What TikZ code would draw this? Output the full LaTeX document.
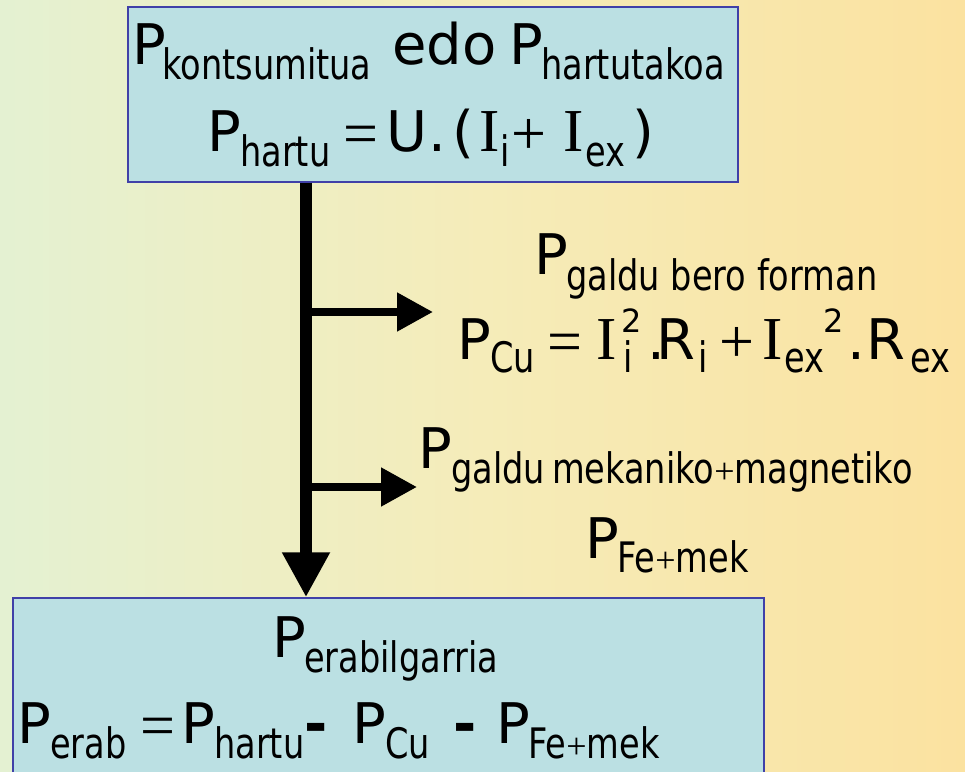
\documentclass[tikz,border=0pt]{standalone}
\usepackage{fontspec}
\usetikzlibrary{arrows.meta}
\newfontfamily\famDV{DejaVu Sans}
\newfontfamily\famDVc[FakeStretch=0.8]{DejaVu Sans}
\newfontfamily\famLS{Liberation Serif}
\newcommand\fBig{\famDV\fontsize{56}{60}\selectfont}
\newcommand\fSub{\famDVc\fontsize{42}{44}\selectfont}
\newcommand\fSup{\famDV\fontsize{32}{34}\selectfont}
\newcommand\fSer{\famLS\fontsize{61}{64}\selectfont}
\newcommand\fOp{\famLS\fontsize{62}{64}\selectfont}
\newcommand\smplus{{\famLS\fontsize{36}{36}\selectfont+}}
\definecolor{bgL}{RGB}{228,241,210}
\definecolor{bgM}{RGB}{245,236,185}
\definecolor{bgR}{RGB}{251,226,160}
\definecolor{boxfill}{RGB}{187,224,227}
\definecolor{boxline}{RGB}{64,64,168}
\tikzset{
  boxsh/.style={draw=boxline, fill=boxfill, line width=1.5pt, inner sep=0pt},
  mainarrow/.style={line width=12pt, -{Triangle[length=45pt,width=45pt]}},
  branch/.style={line width=8pt, -{Triangle[length=36pt,width=37pt]}},
  tB/.style={inner sep=0pt, anchor=base west, font=\fBig},
  tBc/.style={inner sep=0pt, anchor=base, font=\fBig},
  tS/.style={inner sep=0pt, anchor=base west, font=\fSub},
  tR/.style={inner sep=0pt, anchor=base, font=\fSer},
  tO/.style={inner sep=0pt, anchor=base, font=\fOp, yshift=-3pt},
  tU/.style={inner sep=0pt, anchor=base, font=\fSup},
  tH/.style={inner sep=0pt, anchor=base, font=\fBig\bfseries}
}
\begin{document}
\begin{tikzpicture}[x=1pt,y=1pt]
\useasboundingbox (0,0) rectangle (965,771);
\shade[left color=bgL, right color=bgR, middle color=bgM] (0,0) rectangle (965,771);
% boxes
\node[boxsh, minimum width=610pt, minimum height=175pt] (top) at (433,676.5) {};
\node[boxsh, minimum width=751pt, minimum height=183pt] (bot) at (388.5,81.5) {};
% arrows
\coordinate (ax) at (306,0);
\draw[mainarrow] (top.south -| ax) -- (bot.north -| ax);
\coordinate (j1) at (306,459);
\coordinate (e1) at (433,459);
\coordinate (j2) at (306,284);
\coordinate (e2) at (417,284);
\draw[branch] (j1) -- (e1);
\draw[branch] (j2) -- (e2);
% top box row 1
\node[tB] (a1) at (132.5,706) {P};
\node[tS] (a2) at (162,691) {kontsumitua};
\node[tB] (a3) at (392,706) {edo};
\node[tB] (a4) at (509.5,706) {P};
\node[tS] (a5) at (541,691) {hartutakoa};
% top box row 2
\node[tB] (b1) at (207.5,619) {P};
\node[tS] (b2) at (240,604) {hartu};
\node[tO] (b3) at (361,619) {=};
\node[tB] (b4) at (386,619) {U};
\node[tBc] (b5) at (437,619) {.};
\node[tBc] (b6) at (463,619) {(};
\node[tR] (b7) at (490,619) {I};
\node[tS] (b8) at (500,604) {i};
\node[tO] (b9) at (529,619) {+};
\node[tR] (b10) at (573.5,619) {I};
\node[tS] (b11) at (585,604) {ex};
\node[tBc] (b12) at (643.5,619) {)};
% P galdu bero forman
\node[tB] (c1) at (534.5,496) {P};
\node[tS] (c2) at (566,480) {galdu bero forman};
% P_Cu line
\node[tB] (d1) at (457.5,411) {P};
\node[tS] (d2) at (490,398) {Cu};
\node[tO] (d3) at (565,411) {=};
\node[tR] (d4) at (607,411) {I};
\node[tS] (d5) at (623,398) {i};
\node[tU] (d6) at (632,438) {2};
\node[tBc] (d7) at (656,411) {.};
\node[tB] (d8) at (656.5,411) {R};
\node[tS] (d9) at (698,398) {i};
\node[tO] (d10) at (737,411) {+};
\node[tR] (d11) at (772.5,411) {I};
\node[tS] (d12) at (784,398) {ex};
\node[tU] (d13) at (834,438) {2};
\node[tBc] (d14) at (856,411) {.};
\node[tB] (d15) at (866.5,411) {R};
\node[tS] (d16) at (910,398) {ex};
% P galdu mekaniko+magnetiko
\node[tB] (f1) at (418.5,302) {P};
\node[tS] (f2) at (451,287) {galdu\,mekaniko\smplus magnetiko};
% P Fe+mek
\node[tB] (g1) at (585.5,213) {P};
\node[tS] (g2) at (617,199) {Fe\smplus mek};
% bottom box row 1
\node[tB] (h1) at (272.5,114) {P};
\node[tS] (h2) at (304,99) {erabilgarria};
% bottom box row 2
\node[tB] (k1) at (17.5,28) {P};
\node[tS] (k2) at (50,13) {erab};
\node[tO] (k3) at (158,28) {=};
\node[tB] (k4) at (181.5,28) {P};
\node[tS] (k5) at (214,13) {hartu};
\node[tH] (k6) at (316,28) {-};
\node[tB] (k7) at (352.5,28) {P};
\node[tS] (k8) at (385,13) {Cu};
\node[tH] (k9) at (465,28) {-};
\node[tB] (k10) at (496.5,28) {P};
\node[tS] (k11) at (528,13) {Fe\smplus mek};
\end{tikzpicture}
\end{document}
